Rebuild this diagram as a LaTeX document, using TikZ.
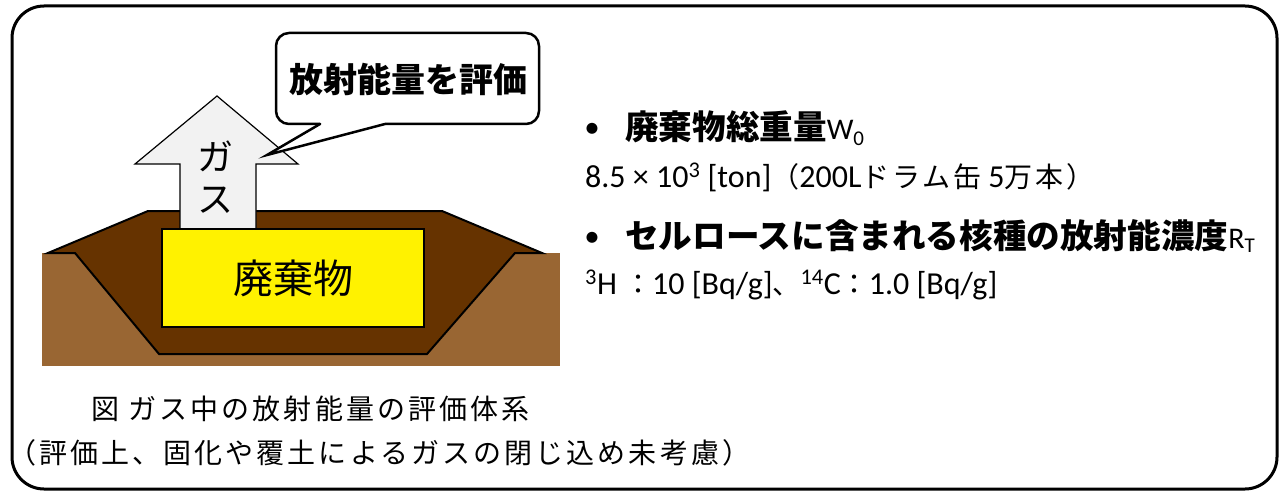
\documentclass[tikz,border=0pt]{standalone}
\usepackage{fontspec}
\setmainfont{Carlito}
\newfontfamily\jp{Noto Sans CJK JP}
\newfontfamily\jpsp{Noto Sans CJK JP}[LetterSpace=10]
\newfontfamily\jpcap{Noto Sans CJK JP}[LetterSpace=11]
\definecolor{soil}{HTML}{996633}
\definecolor{backfill}{HTML}{663300}
\definecolor{gasgray}{HTML}{F2F2F2}
\tikzset{
  txt/.style={inner sep=0pt, anchor=base west},
  bulletmark/.style={inner sep=0pt, anchor=base, font=\fontsize{31}{31}\selectfont},
  heavy/.style={line width=2.5pt},
}
% sizes used in the text blocks
\newcommand{\latinsz}{\fontsize{32}{36}\selectfont}
\newcommand{\jpsz}{\jpsp\fontsize{28}{32}\selectfont}
\newcommand{\headsz}{\jp\bfseries\fontsize{33.6}{38}\selectfont}
\newcommand{\symsz}{\normalfont\fontsize{30}{32}\selectfont}
\begin{document}
\begin{tikzpicture}[x=1pt,y=-1pt,line join=miter]
\useasboundingbox (0,0) rectangle (1280,492);

% ground
\fill[soil] (42,253) rectangle (560,366);
% backfilled trench with its mound
\draw[line width=2pt, fill=backfill] (48,253) -- (148,211) -- (442,211) -- (542,253)
  -- (515,253) -- (427,354) -- (159,354) -- (75,253) -- cycle;

% gas arrow rising out of the waste
\draw[line width=1.2pt, fill=gasgray] (180,229) -- (180,164) -- (135,164) -- (217,96)
  -- (298,164) -- (256,164) -- (256,229);
\node[inner sep=0pt, font=\jp\fontsize{36}{36}\selectfont] (gasA) at (215,156) {ガ};
\node[inner sep=0pt, font=\jp\fontsize{36}{36}\selectfont] (gasB) at (215,200) {ス};

% waste package
\node[draw, line width=2.5pt, fill=yellow, minimum width=262pt, minimum height=98pt,
  inner sep=0pt, font=\jp\fontsize{40}{40}\selectfont] (waste) at (293,278) {廃棄物};

% speech balloon
\fill[white, rounded corners=13pt] (276,33) rectangle (539,124);
\fill[white] (320,124) -- (267,155) -- (385,124) -- cycle;
\draw[heavy, line cap=round, rounded corners=13pt] (320,124) -- (276,124) -- (276,33)
  -- (539,33) -- (539,124) -- (385,124);
\draw[heavy, line cap=round] (320,124) -- (267,155) -- (385,124);
\node[inner sep=0pt, font=\jp\bfseries\fontsize{34}{34}\selectfont] (evaluate) at (408,80) {放射能量を評価};

% inventory notes
\node[bulletmark] (b1) at (592,138) {•};
\node[txt] (l1) at (625,140) {\headsz 廃棄物総重量{\symsz W\textsubscript{0}}};
\node[txt] (l2) at (585,187) {\latinsz 8.5 × 10\textsuperscript{3} [ton]{\jpsz （}200L{\jpsz ドラム缶} 5{\jpsz 万本）}};
\node[bulletmark] (b2) at (592,246) {•};
\node[txt] (l3) at (625,248) {\headsz セルロースに含まれる核種の放射能濃度{\symsz R\textsubscript{T}}};
\node[txt] (l4) at (585,294) {\latinsz \textsuperscript{3}H {\jpsz ：}10 [Bq/g]{\jpsz 、}\textsuperscript{14}C{\jpsz ：}1.0 [Bq/g]};

% caption
\node[txt, font=\jpcap\fontsize{28}{32}\selectfont] (cap1) at (91,419) {図 ガス中の放射能量の評価体系};
\node[txt, font=\jpcap\fontsize{28}{32}\selectfont] (cap2) at (8,463) {（評価上、固化や覆土によるガスの閉じ込め未考慮）};

% outer frame
\draw[line width=3pt, rounded corners=32pt] (12,6) rectangle (1277,489);
\end{tikzpicture}
\end{document}
